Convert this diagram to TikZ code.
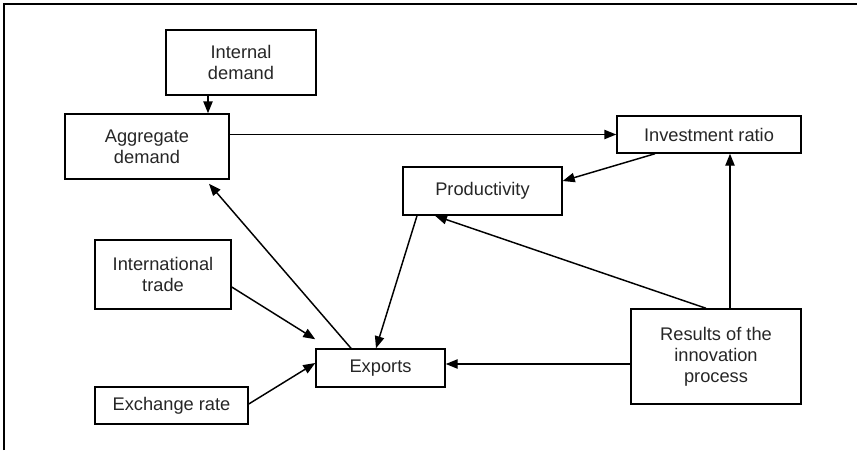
\documentclass[tikz,border=0pt]{standalone}
\usepackage{fontspec}
\setmainfont{Liberation Sans}
\usetikzlibrary{arrows.meta,calc}

\begin{document}
\begin{tikzpicture}[x=0.75pt, y=-0.75pt,
    box/.style={draw, line width=1.1pt, inner sep=0pt, align=center,
        text=black!85, font=\fontsize{13.7}{15.75}\selectfont},
    link/.style={-{Triangle[length=9pt,width=7pt]}, line width=1.1pt}]
    \useasboundingbox (0,0) rectangle (857,450);
    % Frame
    \draw[line width=1pt] (4,450) -- (4,4) -- (857,4);
    % Demand side
    \node[box, minimum width=112.5pt, minimum height=48.75pt] (intd) at (241,62.5) {Internal\\demand};
    \node[box, minimum width=123pt, minimum height=48.75pt] (agg) at (147,146.5) {Aggregate\\demand};
    % Supply side
    \node[box, minimum width=138pt, minimum height=27.75pt] (inv) at (709,134.5) {Investment ratio};
    \node[box, minimum width=119.25pt, minimum height=36pt] (prod) at (482.5,191) {Productivity};
    \node[box, minimum width=127.5pt, minimum height=71.25pt] (res) at (716,356.5) {Results of the\\innovation\\process};
    % Trade
    \node[box, minimum width=102pt, minimum height=51.75pt] (intl) at (163,274.5) {International\\trade};
    \node[box, minimum width=96.75pt, minimum height=28.5pt] (exp) at (380.5,368) {Exports};
    \node[box, minimum width=114.75pt, minimum height=27.75pt] (exch) at (171.5,405.5) {Exchange rate};
    % Arrows
    \draw[link] ($(intd.south)+(-33,0)$) -- ($(agg.north)+(61,0)$);
    \draw[link] (agg.east |- inv.west) -- (inv.west);
    \draw[link] ($(inv.south)+(-54,0)$) -- ($(prod.east)+(0,-10)$);
    \draw[link] ($(res.north)+(14,0)$) -- ($(inv.south)+(21,0)$);
    \draw[link] ($(res.north)+(-10,0)$) -- ($(prod.south)+(-47.5,0)$);
    \draw[link] ($(prod.south)+(-65.5,0)$) -- ($(exp.north)+(-4.5,0)$);
    \draw[link] ($(exp.north)+(-29.5,0)$) -- ($(agg.south)+(62,4)$);
    \draw[link] ($(intl.east)+(0,12.5)$) -- ($(exp.north west)+(0,-9)$);
    \draw[link] ($(exch.east)+(0,-1.5)$) -- ($(exp.west)+(0,-5)$);
    \draw[link] ($(res.west)+(0,7.5)$) -- ($(exp.east)+(0,-4)$);
\end{tikzpicture}
\end{document}
